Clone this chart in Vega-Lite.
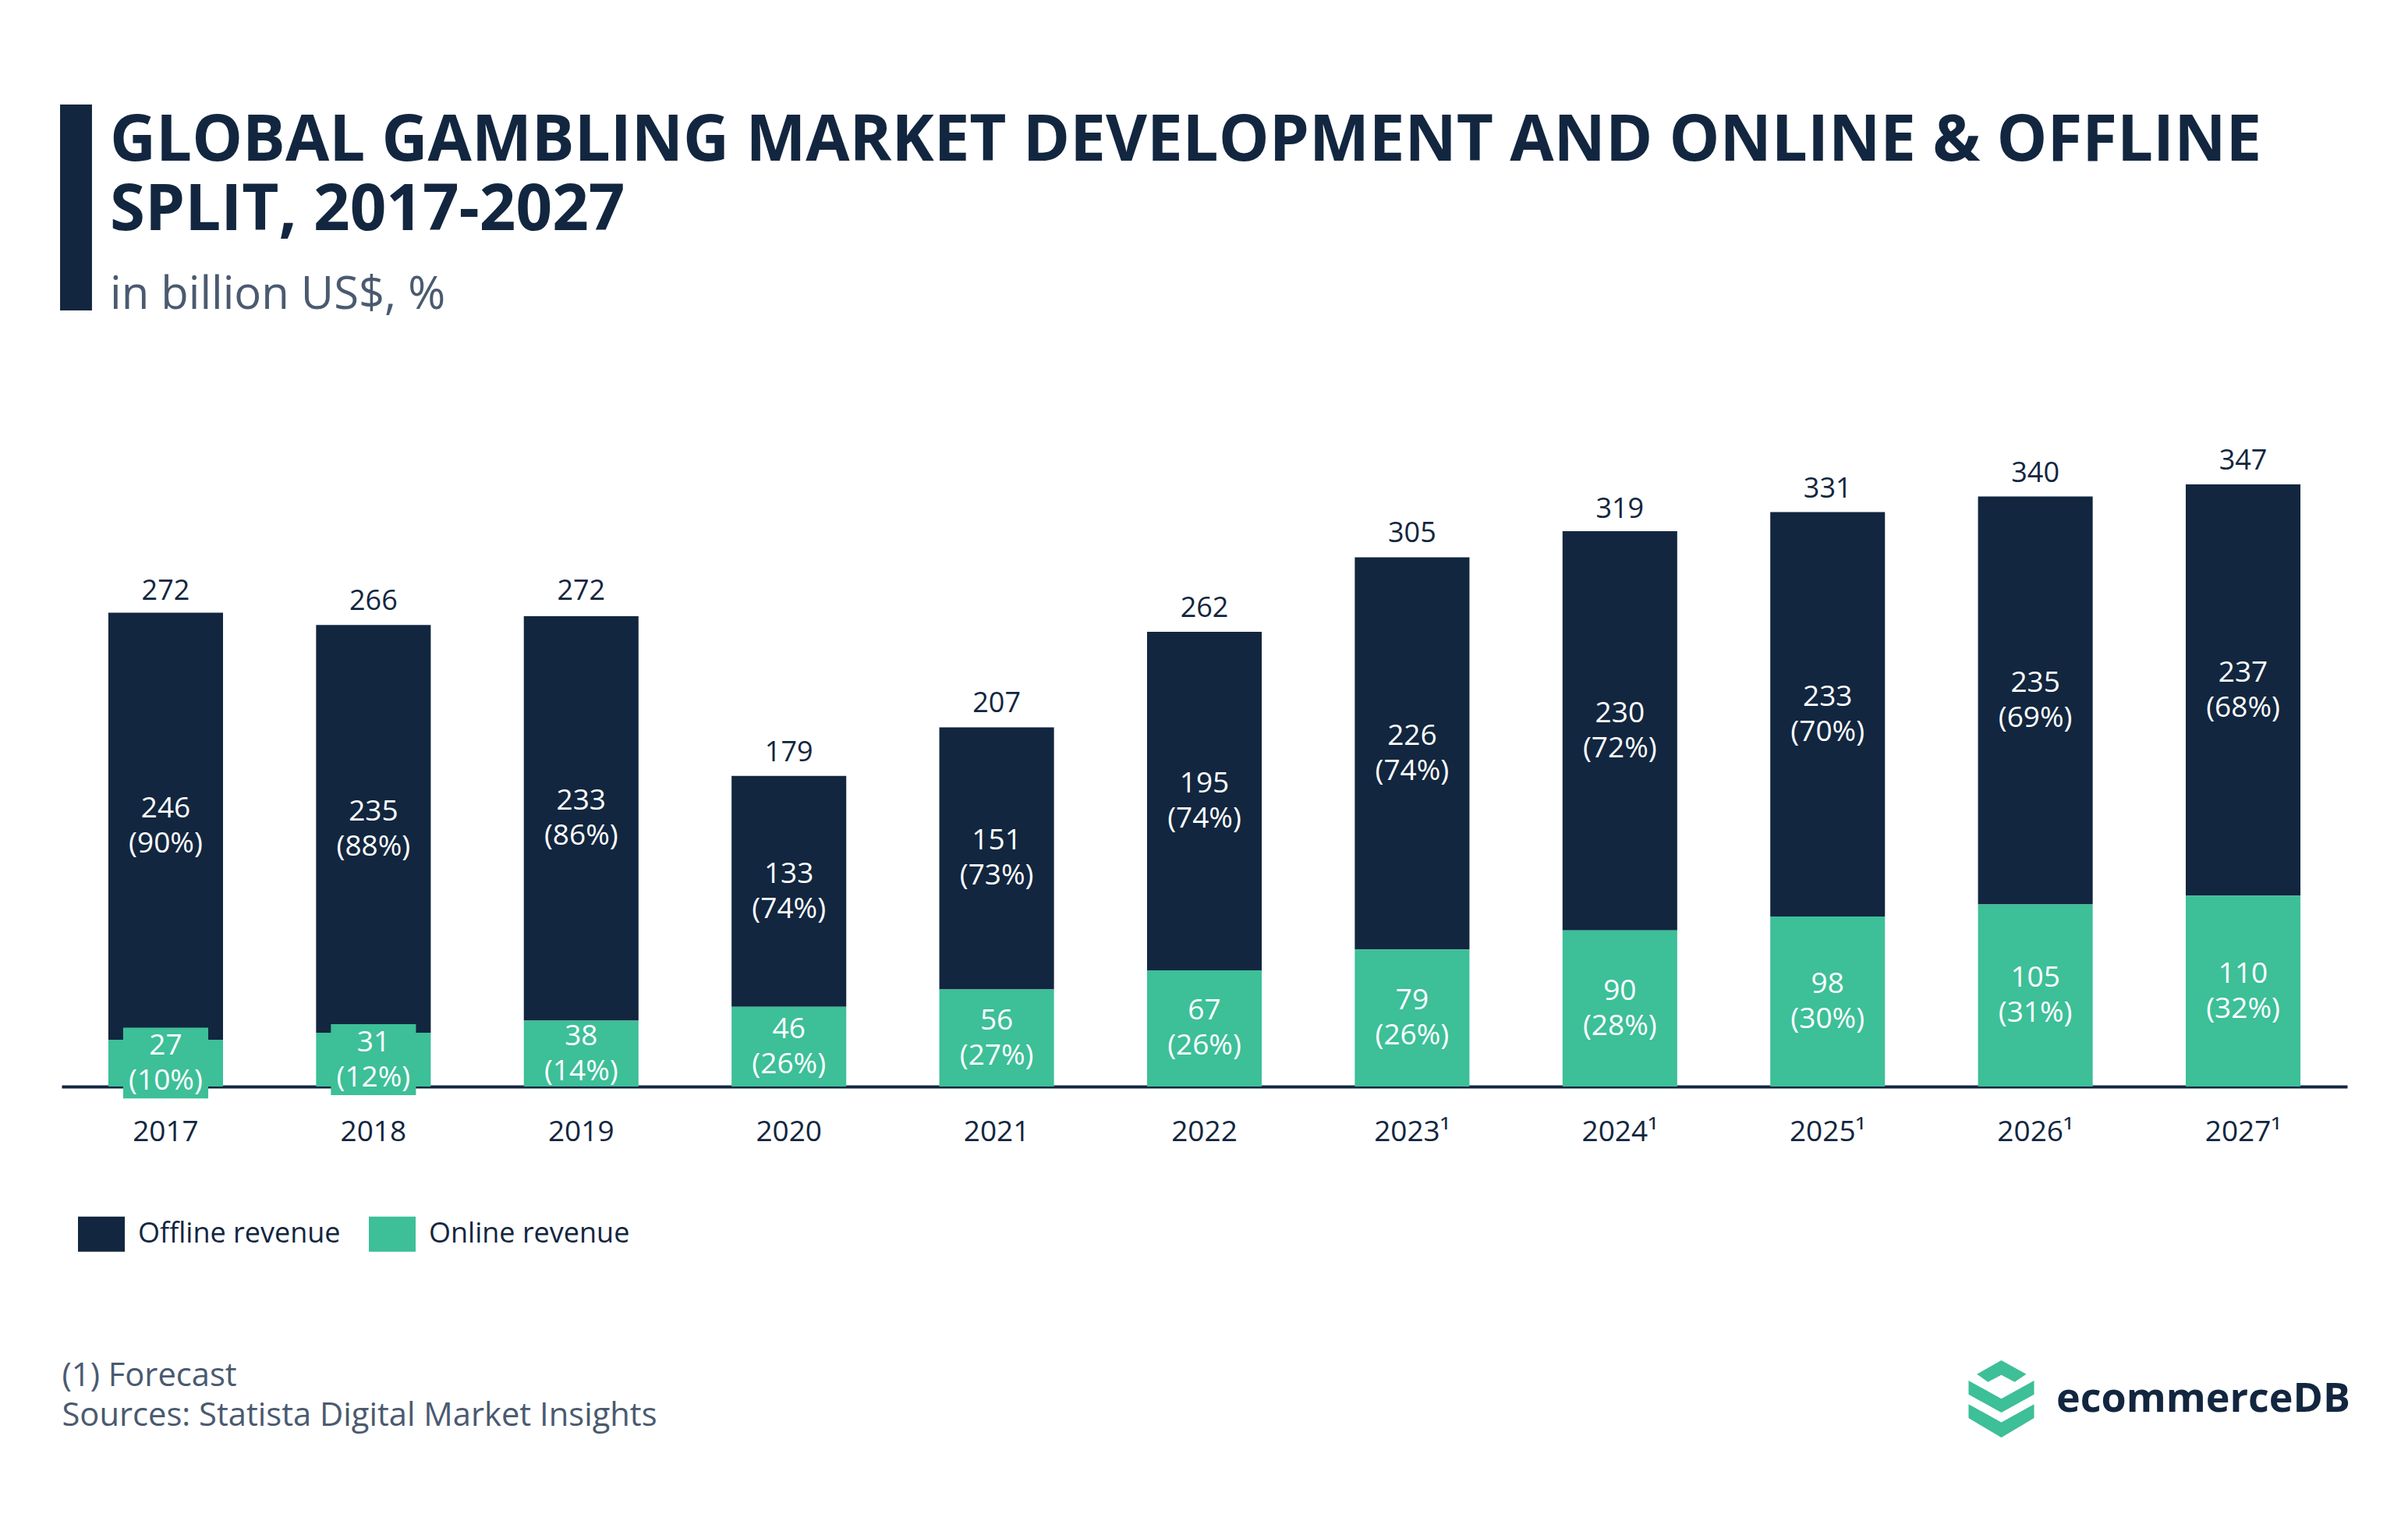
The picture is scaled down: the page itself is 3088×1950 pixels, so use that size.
{
  "$schema": "https://vega.github.io/schema/vega-lite/v6.json",
  "autosize": {"type": "none"},
  "width": 2931,
  "height": 890,
  "padding": {"left": 79, "top": 503, "right": 78, "bottom": 557},
  "background": "white",
  "config": {"font": "Open Sans", "view": {"stroke": null}},
  "title": {
    "text": ["GLOBAL GAMBLING MARKET DEVELOPMENT AND ONLINE & OFFLINE", "SPLIT, 2017-2027"],
    "subtitle": "in billion US$, %",
    "anchor": "start",
    "frame": "group",
    "dx": 62,
    "offset": -275,
    "font": "Open Sans",
    "fontSize": 81.6,
    "fontWeight": "bold",
    "color": "#12263F",
    "lineHeight": 89,
    "subtitleFont": "Open Sans",
    "subtitleFontSize": 58,
    "subtitleFontWeight": "normal",
    "subtitleColor": "#4A5A70",
    "subtitlePadding": 37
  },
  "resolve": {"scale": {"shape": "independent"}, "legend": {"shape": "independent"}},
  "datasets": {
    "revenue": [
      {"year": "2017", "segment": "Offline revenue", "value": 246, "share": 90},
      {"year": "2017", "segment": "Online revenue", "value": 27, "share": 10},
      {"year": "2018", "segment": "Offline revenue", "value": 235, "share": 88},
      {"year": "2018", "segment": "Online revenue", "value": 31, "share": 12},
      {"year": "2019", "segment": "Offline revenue", "value": 233, "share": 86},
      {"year": "2019", "segment": "Online revenue", "value": 38, "share": 14},
      {"year": "2020", "segment": "Offline revenue", "value": 133, "share": 74},
      {"year": "2020", "segment": "Online revenue", "value": 46, "share": 26},
      {"year": "2021", "segment": "Offline revenue", "value": 151, "share": 73},
      {"year": "2021", "segment": "Online revenue", "value": 56, "share": 27},
      {"year": "2022", "segment": "Offline revenue", "value": 195, "share": 74},
      {"year": "2022", "segment": "Online revenue", "value": 67, "share": 26},
      {"year": "2023", "segment": "Offline revenue", "value": 226, "share": 74},
      {"year": "2023", "segment": "Online revenue", "value": 79, "share": 26},
      {"year": "2024", "segment": "Offline revenue", "value": 230, "share": 72},
      {"year": "2024", "segment": "Online revenue", "value": 90, "share": 28},
      {"year": "2025", "segment": "Offline revenue", "value": 233, "share": 70},
      {"year": "2025", "segment": "Online revenue", "value": 98, "share": 30},
      {"year": "2026", "segment": "Offline revenue", "value": 235, "share": 69},
      {"year": "2026", "segment": "Online revenue", "value": 105, "share": 31},
      {"year": "2027", "segment": "Offline revenue", "value": 237, "share": 68},
      {"year": "2027", "segment": "Online revenue", "value": 110, "share": 32}
    ],
    "totals": [
      {"year": "2017", "total": 272},
      {"year": "2018", "total": 266},
      {"year": "2019", "total": 272},
      {"year": "2020", "total": 179},
      {"year": "2021", "total": 207},
      {"year": "2022", "total": 262},
      {"year": "2023", "total": 305},
      {"year": "2024", "total": 319},
      {"year": "2025", "total": 331},
      {"year": "2026", "total": 340},
      {"year": "2027", "total": 347}
    ]
  },
  "encoding": {
    "x": {
      "field": "year",
      "type": "nominal",
      "sort": null,
      "scale": {"paddingInner": 0.448, "paddingOuter": 0.225},
      "axis": {
        "title": ["(1) Forecast", "Sources: Statista Digital Market Insights"],
        "titleAnchor": "start",
        "titleAlign": "left",
        "titleFont": "Open Sans",
        "titleFontSize": 41.7,
        "titleFontWeight": "normal",
        "titleColor": "#4A5A70",
        "titleLineHeight": 51,
        "titlePadding": 274,
        "labelFont": "Open Sans",
        "labelFontSize": 37,
        "labelColor": "#12263F",
        "labelPadding": 40,
        "labelAngle": 0,
        "ticks": false,
        "tickSize": 0,
        "grid": false,
        "domainColor": "#12263F",
        "domainWidth": 4,
        "labelExpr": "toNumber(datum.value) >= 2023 ? datum.value + '¹' : datum.value"
      }
    }
  },
  "layer": [
    {
      "data": {"name": "revenue"},
      "transform": [
        {"calculate": "datum.segment === 'Online revenue' ? 0 : 1", "as": "stackOrder"}
      ],
      "mark": {"type": "bar", "clip": false},
      "encoding": {
        "y": {
          "field": "value",
          "type": "quantitative",
          "stack": "zero",
          "scale": {"domain": [0, 400], "nice": false, "zero": true},
          "axis": null
        },
        "color": {
          "field": "segment",
          "type": "nominal",
          "scale": {"domain": ["Offline revenue", "Online revenue"], "range": ["#12263F", "#3DBF98"]},
          "legend": {
            "title": null,
            "orient": "none",
            "legendX": 21,
            "legendY": 1049,
            "direction": "horizontal",
            "columns": 2,
            "symbolType": "M-1,-0.75H1V0.75H-1Z",
            "symbolSize": 3600,
            "symbolStrokeWidth": 0,
            "labelFont": "Open Sans",
            "labelFontSize": 36,
            "labelColor": "#12263F",
            "labelOffset": 17,
            "labelLimit": 0,
            "columnPadding": 36,
            "padding": 0
          }
        },
        "order": {"field": "stackOrder", "type": "quantitative"}
      }
    },
    {
      "data": {"name": "revenue"},
      "transform": [
        {"calculate": "datum.segment === 'Online revenue' ? 0 : 1", "as": "stackOrder"},
        {"stack": "value", "groupby": ["year"], "sort": [{"field": "stackOrder", "order": "ascending"}], "as": ["v0", "v1"]},
        {"filter": "datum.segment === 'Online revenue' && datum.value < 35"},
        {"calculate": "(datum.v0 + datum.v1) / 2 - 20.4", "as": "boxLo"},
        {"calculate": "(datum.v0 + datum.v1) / 2 + 20.4", "as": "boxHi"}
      ],
      "mark": {"type": "bar", "color": "#3DBF98", "width": {"band": 0.742}, "clip": false},
      "encoding": {
        "y": {"field": "boxLo", "type": "quantitative", "axis": null},
        "y2": {"field": "boxHi"}
      }
    },
    {
      "data": {"name": "revenue"},
      "transform": [
        {"calculate": "datum.segment === 'Online revenue' ? 0 : 1", "as": "stackOrder"},
        {"stack": "value", "groupby": ["year"], "sort": [{"field": "stackOrder", "order": "ascending"}], "as": ["v0", "v1"]},
        {"calculate": "(datum.v0 + datum.v1) / 2", "as": "mid"},
        {"calculate": "datum.value + '\\n(' + datum.share + '%)'", "as": "label"}
      ],
      "mark": {"type": "text", "color": "white", "font": "Open Sans", "fontSize": 37, "lineHeight": 45, "baseline": "middle", "align": "center", "lineBreak": "\n", "dy": -22, "clip": false},
      "encoding": {
        "y": {"field": "mid", "type": "quantitative", "axis": null},
        "text": {"field": "label", "type": "nominal"}
      }
    },
    {
      "data": {"name": "totals"},
      "mark": {"type": "text", "color": "#12263F", "font": "Open Sans", "fontSize": 36, "baseline": "alphabetic", "align": "center", "dy": -19, "clip": false},
      "encoding": {
        "y": {"field": "total", "type": "quantitative", "axis": null},
        "text": {"field": "total", "type": "quantitative"}
      }
    },
    {
      "data": {"name": "totals"},
      "transform": [{"filter": "false"}],
      "mark": {"type": "point", "filled": true, "color": "#3DBF98", "opacity": 1},
      "encoding": {
        "shape": {
          "datum": "ecommerceDB",
          "type": "nominal",
          "scale": {"range": ["M-0.633,-0.64L0,-1L0.647,-0.64L0.345,-0.439L0,-0.619L-0.345,-0.439ZM-0.849,-0.475L0,-0.007L0.849,-0.475L0.849,-0.115L0,0.353L-0.849,-0.115ZM-0.849,0.137L0,0.604L0.849,0.137L0.849,0.496L0,1L-0.849,0.496Z"]},
          "legend": {
            "title": null,
            "orient": "none",
            "legendX": 2438,
            "legendY": 1241,
            "symbolSize": 9801,
            "symbolStrokeWidth": 0,
            "symbolFillColor": "#3DBF98",
            "symbolOpacity": 1,
            "labelFont": "Open Sans",
            "labelFontSize": 52,
            "labelFontWeight": "bold",
            "labelColor": "#12263F",
            "labelOffset": 21,
            "labelLimit": 0,
            "padding": 0
          }
        }
      }
    },
    {
      "data": {"name": "totals"},
      "transform": [{"filter": "false"}],
      "mark": {"type": "point", "filled": true, "color": "#12263F", "opacity": 1},
      "encoding": {
        "shape": {
          "datum": "accent",
          "type": "nominal",
          "scale": {"range": ["M-0.155,-1H0.155V1H-0.155Z"]},
          "legend": {
            "title": null,
            "orient": "none",
            "legendX": -113.5,
            "legendY": -369,
            "symbolSize": 69696,
            "symbolStrokeWidth": 0,
            "symbolFillColor": "#12263F",
            "symbolOpacity": 1,
            "labelExpr": "''",
            "labelOffset": 0,
            "padding": 0
          }
        }
      }
    }
  ]
}
